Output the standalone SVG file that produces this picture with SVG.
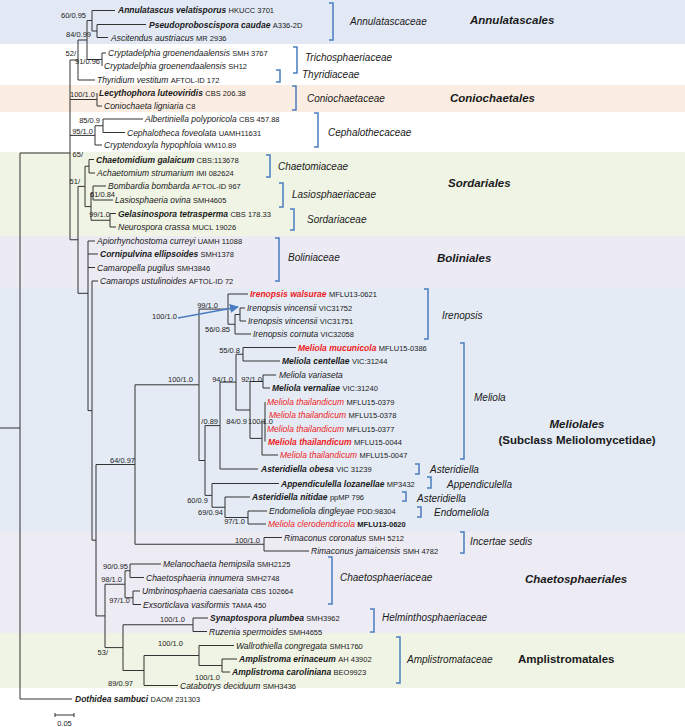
<svg xmlns="http://www.w3.org/2000/svg" width="685" height="727" viewBox="0 0 685 727">
<defs>
<style>
.bg{stroke:none}
.br{fill:none;stroke:#333;stroke-width:1}
.bk{fill:none;stroke:#4a7dc0;stroke-width:1.5}
text{font-family:"Liberation Sans",Arial,sans-serif;fill:#1a1a1a}
.n{font-size:8.5px;font-style:italic}
.b{font-weight:bold}
.r{fill:#ee1c24}
.a{font-size:7.5px;font-style:normal;font-weight:normal;fill:#1a1a1a}
.ab{font-weight:bold}
.s{font-size:7.5px;text-anchor:end;fill:#222}
.f{font-size:10px;font-style:italic}
.o{font-size:11.5px;font-style:italic;font-weight:bold}
.ob{font-size:11.5px;font-weight:bold}
</style>
<marker id="ah" viewBox="0 0 10 10" refX="9" refY="5" markerWidth="6" markerHeight="6" orient="auto"><path d="M0 0L10 5L0 10z" fill="#4a7dc0"/></marker>
</defs>
<g id="bands">
<rect class="bg" x="0" y="0" width="685" height="44" fill="#e2e9f5"/>
<rect class="bg" x="0" y="85" width="685" height="27" fill="#fcede2"/>
<rect class="bg" x="0" y="152" width="685" height="84" fill="#f0f4e5"/>
<rect class="bg" x="0" y="236" width="685" height="52" fill="#ecebf4"/>
<rect class="bg" x="0" y="288" width="685" height="244" fill="#e4ebf5"/>
<rect class="bg" x="0" y="532" width="685" height="101" fill="#edebf4"/>
<rect class="bg" x="0" y="633" width="685" height="55" fill="#f0f4e4"/>
</g>
<g id="connectors">
<path class="br" d="M0 428H20M20 153V699M20 153H70M20 699H72
M70 60V239.75M70 60H78M78 40V80M78 80H95M78 40H87M87 20.5V59.5M87 20.5H92M92 10.5V31M92 10.5H115M92 31H97M97 24.5V37.5M97 24.5H146M97 37.5H108M87 59.5H102M102 53V66M102 53H106
M70 99.5H97M97 93V106M97 106H102
M70 135.4H95M95 125.75V145M95 145H102M95 125.75H103M103 119V132.5M103 119H143M103 132.5H125
M70 239.75H78M78 186.4V293.3M78 186.4H85M85 166.25V206.6M85 166.25H89M89 159.5V173M89 159.5H94M89 173H95
M85 206.6H91M91 193V220.25M91 193H93M93 186V200M93 186H106M93 200H113M91 220.25H110M110 213.5V227M110 213.5H116M110 227H116
M78 293.3H88M88 241V410.6M88 241H95M88 254H98M88 267.5H95M88 410.6H92M92 281V540.2M92 281H98M92 540.2H96
M96 464.5V615.9M96 464.5H135M96 615.9H105
M135 384.8V544.25M135 384.8H199M135 544.25H264M264 537.5V551M264 537.5H282M264 551H309
M199 309.1V460.5M199 309.1H228M228 294V324.25M228 294H248M228 324.25H235M235 314.5V334M235 334H251M235 314.5H240M240 308V321M240 308H245M240 321H246
M199 460.5H205M205 425.6V495.4M205 425.6H220M220 382.1V469M220 469H258M220 382.1H236M236 354.25V410M236 354.25H243M243 347.5V361M243 347.5H296M243 361H280
M236 410H250M250 381.5V438.4M250 381.5H263M263 375V388M263 375H276M263 388H270M250 438.4H262M262 421.75V455M262 455H278M262 421.75H265M265 402V441.5
M205 495.4H212M212 483.5V507.25M212 483.5H279M212 507.25H225M225 497V517.5M225 497H250M225 517.5H248M248 511V524M248 511H267M248 524H266
M105 584.25V647.6M105 584.25H125M125 570.75V597.75M125 570.75H130M130 564V577.5M130 564H161M130 577.5H144M125 597.75H133M133 591V604.5M133 591H140M133 604.5H141
M105 647.6H123M123 624.75V670.5M123 624.75H193M193 618V631.5M193 618H208M193 631.5H207M123 670.5H144M144 655.5V685.5M144 685.5H178M144 655.5H199M199 645.5V665.5M199 645.5H234M199 665.5H222M222 659V672M222 659H237M222 672H230"/>
<line x1="178" y1="318" x2="238" y2="307" stroke="#4a7dc0" stroke-width="1.5" marker-end="url(#ah)"/>
</g>
<g id="support">
<text class="s" x="86" y="18.4">60/0.95</text>
<text class="s" x="91" y="37">84/0.99</text>
<text class="s" x="76" y="56">52/</text>
<text class="s" x="100" y="64.4">91/0.96</text>
<text class="s" x="95" y="97">100/1.0</text>
<text class="s" x="100" y="123.4">85/0.9</text>
<text class="s" x="93" y="134.4">95/1.0</text>
<text class="s" x="83" y="156.7">65/</text>
<text class="s" x="80" y="183.7">51/</text>
<text class="s" x="115" y="196.7">61/0.84</text>
<text class="s" x="110" y="217">99/1.0</text>
<text class="s" x="218" y="308.4">99/1.0</text>
<text class="s" x="177" y="319.4">100/1.0</text>
<text class="s" x="230" y="332">56/0.85</text>
<text class="s" x="240" y="353.4">55/0.8</text>
<text class="s" x="193" y="381.7">100/1.0</text>
<text class="s" x="233" y="381.7">94/1.0</text>
<text class="s" x="262" y="381.7">92/1.0</text>
<text class="s" x="218" y="423.7">/0.89</text>
<text class="s" x="247" y="423.7">84/0.9</text>
<text class="s" x="273" y="424.4">100/1.0</text>
<text class="s" x="135" y="462.7">64/0.97</text>
<text class="s" x="208" y="502.7">60/0.9</text>
<text class="s" x="223" y="515">69/0.94</text>
<text class="s" x="245" y="524.4">97/1.0</text>
<text class="s" x="260" y="542.7">100/1.0</text>
<text class="s" x="128" y="568.7">90/0.95</text>
<text class="s" x="122" y="582">98/1.0</text>
<text class="s" x="130" y="603.4">97/1.0</text>
<text class="s" x="185" y="622">100/1.0</text>
<text class="s" x="183" y="646">100/1.0</text>
<text class="s" x="108" y="655.4">53/</text>
<text class="s" x="220" y="680.2">100/1.0</text>
<text class="s" x="133" y="686">89/0.97</text>
</g>
<g id="taxa">
<g id="t1"><text class="n b" x="118" y="13">Annulatascus velatisporus <tspan class="a">HKUCC 3701</tspan></text></g>
<g id="t2"><text class="n b" x="149" y="27.5">Pseudoproboscispora caudae <tspan class="a">A336-2D</tspan></text></g>
<g id="t3"><text class="n" x="111" y="40.5">Ascitendus austriacus <tspan class="a"> MR 2936</tspan></text></g>
<g id="t4"><text class="n" x="108" y="56">Cryptadelphia groenendaalensis <tspan class="a">SMH 3767</tspan></text></g>
<g id="t5"><text class="n" x="104" y="69">Cryptadelphia groenendaalensis <tspan class="a">SH12</tspan></text></g>
<g id="t6"><text class="n" x="97" y="83">Thyridium vestitum <tspan class="a">AFTOL-ID 172</tspan></text></g>
<g id="t7"><text class="n b" x="99" y="96">Lecythophora luteoviridis <tspan class="a">CBS 206.38</tspan></text></g>
<g id="t8"><text class="n" x="104" y="109">Coniochaeta ligniaria <tspan class="a">C8</tspan></text></g>
<g id="t9"><text class="n" x="145" y="122">Albertiniella polyporicola <tspan class="a">CBS 457.88</tspan></text></g>
<g id="t10"><text class="n" x="127" y="135.5">Cephalotheca foveolata <tspan class="a">UAMH11631</tspan></text></g>
<g id="t11"><text class="n" x="104" y="148">Cryptendoxyla hypophloia <tspan class="a">WM10.89</tspan></text></g>
<g id="t12"><text class="n b" x="96" y="162.5">Chaetomidium galaicum <tspan class="a">CBS:113678</tspan></text></g>
<g id="t13"><text class="n" x="97" y="176">Achaetomium strumarium <tspan class="a">IMI 082624</tspan></text></g>
<g id="t14"><text class="n" x="108" y="189">Bombardia bombarda <tspan class="a">AFTOL-ID 967</tspan></text></g>
<g id="t15"><text class="n" x="115" y="203">Lasiosphaeria ovina <tspan class="a">SMH4605</tspan></text></g>
<g id="t16"><text class="n b" x="118" y="216.5">Gelasinospora tetrasperma <tspan class="a">CBS 178.33</tspan></text></g>
<g id="t17"><text class="n" x="118" y="230">Neurospora crassa <tspan class="a">MUCL 19026</tspan></text></g>
<g id="t18"><text class="n" x="97" y="244">Apiorhynchostoma curreyi <tspan class="a">UAMH 11088</tspan></text></g>
<g id="t19"><text class="n b" x="100" y="257">Cornipulvina ellipsoides <tspan class="a">SMH1378</tspan></text></g>
<g id="t20"><text class="n" x="97" y="270.5">Camaropella pugilus <tspan class="a">SMH3846</tspan></text></g>
<g id="t21"><text class="n" x="100" y="284">Camarops ustulinoides <tspan class="a">AFTOL-ID 72</tspan></text></g>
<g id="t22"><text class="n b" x="250" y="297"><tspan class="r">Irenopsis walsurae</tspan> <tspan class="a">MFLU13-0621</tspan></text></g>
<g id="t23"><text class="n" x="247" y="311">Irenopsis vincensii <tspan class="a">VIC31752</tspan></text></g>
<g id="t24"><text class="n" x="248" y="324">Irenopsis vincensii <tspan class="a">VIC31751</tspan></text></g>
<g id="t25"><text class="n" x="253" y="337">Irenopsis cornuta <tspan class="a">VIC32058</tspan></text></g>
<g id="t26"><text class="n b" x="298" y="350.5"><tspan class="r">Meliola  mucunicola</tspan> <tspan class="a">MFLU15-0386</tspan></text></g>
<g id="t27"><text class="n b" x="282" y="364">Meliola centellae <tspan class="a">VIC:31244</tspan></text></g>
<g id="t28"><text class="n" x="279" y="378">Meliola variaseta</text></g>
<g id="t29"><text class="n b" x="272" y="391">Meliola vernaliae <tspan class="a">VIC:31240</tspan></text></g>
<g id="t30"><text class="n" x="267" y="405"><tspan class="r">Meliola thailandicum</tspan> <tspan class="a">MFLU15-0379</tspan></text></g>
<g id="t31"><text class="n" x="269" y="418"><tspan class="r">Meliola thailandicum</tspan> <tspan class="a">MFLU15-0378</tspan></text></g>
<g id="t32"><text class="n" x="267" y="431.5"><tspan class="r">Meliola thailandicum</tspan> <tspan class="a">MFLU15-0377</tspan></text></g>
<g id="t33"><text class="n b" x="268" y="444.5"><tspan class="r">Meliola thailandicum</tspan> <tspan class="a"> MFLU15-0044</tspan></text></g>
<g id="t34"><text class="n" x="280" y="458"><tspan class="r">Meliola thailandicum</tspan> <tspan class="a">MFLU15-0047</tspan></text></g>
<g id="t35"><text class="n b" x="261" y="472">Asteridiella obesa <tspan class="a">VIC 31239</tspan></text></g>
<g id="t36"><text class="n b" x="281" y="486.5">Appendiculella lozanellae <tspan class="a">MP3432</tspan></text></g>
<g id="t37"><text class="n b" x="252" y="500">Asteridiella nitidae <tspan class="a">ppMP 796</tspan></text></g>
<g id="t38"><text class="n" x="269" y="514">Endomeliola dingleyae <tspan class="a">PDD:98304</tspan></text></g>
<g id="t39"><text class="n" x="268" y="527"><tspan class="r">Meliola clerodendricola</tspan> <tspan class="a ab">MFLU13-0620</tspan></text></g>
<g id="t40"><text class="n" x="284" y="540.5">Rimaconus coronatus <tspan class="a">SMH 5212</tspan></text></g>
<g id="t41"><text class="n" x="311" y="554">Rimaconus jamaicensis <tspan class="a">SMH 4782</tspan></text></g>
<g id="t42"><text class="n" x="163" y="567">Melanochaeta hemipsila <tspan class="a">SMH2125</tspan></text></g>
<g id="t43"><text class="n" x="146" y="580.5">Chaetosphaeria innumera <tspan class="a">SMH2748</tspan></text></g>
<g id="t44"><text class="n" x="142" y="594">Umbrinosphaeria caesariata <tspan class="a">CBS 102664</tspan></text></g>
<g id="t45"><text class="n" x="143" y="607.5">Exsorticlava vasiformis <tspan class="a">TAMA 450</tspan></text></g>
<g id="t46"><text class="n b" x="210" y="621">Synaptospora plumbea <tspan class="a"> SMH3962</tspan></text></g>
<g id="t47"><text class="n" x="209" y="634.5">Ruzenia spermoides <tspan class="a">SMH4655</tspan></text></g>
<g id="t48"><text class="n" x="236" y="648.5">Wallrothiella congregata <tspan class="a">SMH1760</tspan></text></g>
<g id="t49"><text class="n b" x="239" y="662">Amplistroma erinaceum <tspan class="a"> AH 43902</tspan></text></g>
<g id="t50"><text class="n b" x="232" y="675">Amplistroma caroliniana <tspan class="a">BEO9923</tspan></text></g>
<g id="t51"><text class="n" x="180" y="689">Catabotrys deciduum <tspan class="a">SMH3436</tspan></text></g>
<g id="t52"><text class="n b" x="75" y="702">Dothidea sambuci <tspan class="a">DAOM 231303</tspan></text></g>
</g>
<g id="groups">
<g id="g-annulatascaceae"><path class="bk" d="M329 3H333V40H329"/><text class="f" x="350" y="24.5">Annulatascaceae</text></g>
<g id="g-trichosphaeriaceae"><path class="bk" d="M293 47H297V73H293"/><text class="f" x="305" y="60.5">Trichosphaeriaceae</text></g>
<g id="g-thyridiaceae"><path class="bk" d="M276 70H280V82H276"/><text class="f" x="302" y="77.5">Thyridiaceae</text></g>
<g id="g-coniochaetaceae"><path class="bk" d="M292 86H296V110H292"/><text class="f" x="307" y="101.5">Coniochaetaceae</text></g>
<g id="g-cephalothecaceae"><path class="bk" d="M314 113H318V147H314"/><text class="f" x="328" y="135.5">Cephalothecaceae</text></g>
<g id="g-chaetomiaceae"><path class="bk" d="M266 155H270V177H266"/><text class="f" x="278" y="169.5">Chaetomiaceae</text></g>
<g id="g-lasiosphaeriaceae"><path class="bk" d="M279 183H283V207H279"/><text class="f" x="292" y="197.5">Lasiosphaeriaceae</text></g>
<g id="g-sordariaceae"><path class="bk" d="M290 209H294V230H290"/><text class="f" x="307" y="222.5">Sordariaceae</text></g>
<g id="g-boliniaceae"><path class="bk" d="M275 238H279V281H275"/><text class="f" x="288" y="260.5">Boliniaceae</text></g>
<g id="g-irenopsis"><path class="bk" d="M424 289H428V339H424"/><text class="f" x="442" y="318.5">Irenopsis</text></g>
<g id="g-meliola"><path class="bk" d="M460 343H464V459H460"/><text class="f" x="474" y="400.5">Meliola</text></g>
<g id="g-asteridiella1"><path class="bk" d="M415 464H419V474H415"/><text class="f" x="430" y="472.5">Asteridiella</text></g>
<g id="g-appendiculella"><path class="bk" d="M427 477H431V488H427"/><text class="f" x="447" y="487.5">Appendiculella</text></g>
<g id="g-asteridiella2"><path class="bk" d="M402 492H406V501H402"/><text class="f" x="417" y="501.5">Asteridiella</text></g>
<g id="g-endomeliola"><path class="bk" d="M417 507H421V517H417"/><text class="f" x="434" y="515.5">Endomeliola</text></g>
<g id="g-incertae"><path class="bk" d="M460 532H464V553H460"/><text class="f" x="470" y="544.5">Incertae sedis</text></g>
<g id="g-chaetosphaeriaceae"><path class="bk" d="M328 557H332V604H328"/><text class="f" x="340" y="580.5">Chaetosphaeriaceae</text></g>
<g id="g-helminthosphaeriaceae"><path class="bk" d="M370 609H374V632H370"/><text class="f" x="382" y="620.5">Helminthosphaeriaceae</text></g>
<g id="g-amplistromataceae"><path class="bk" d="M396 637H400V683H396"/><text class="f" x="407" y="662.5">Amplistromataceae</text></g>
</g>
<g id="orders">
<text class="o" x="470" y="24">Annulatascales</text>
<text class="o" x="450" y="102">Coniochaetales</text>
<text class="o" x="448" y="187">Sordariales</text>
<text class="o" x="437" y="262">Boliniales</text>
<text class="o" x="577" y="428" text-anchor="middle" font-size="12px">Meliolales</text>
<text class="ob" x="577" y="444" text-anchor="middle">(Subclass Meliolomycetidae)</text>
<text class="o" x="525" y="583">Chaetosphaeriales</text>
<text class="ob" x="518" y="663">Amplistromatales</text>
</g>
<g id="scale">
<path class="br" d="M55 715H74M55 713V717M74 713V717"/>
<text x="64.5" y="726" font-size="7.5px" text-anchor="middle">0.05</text>
</g>
</svg>
